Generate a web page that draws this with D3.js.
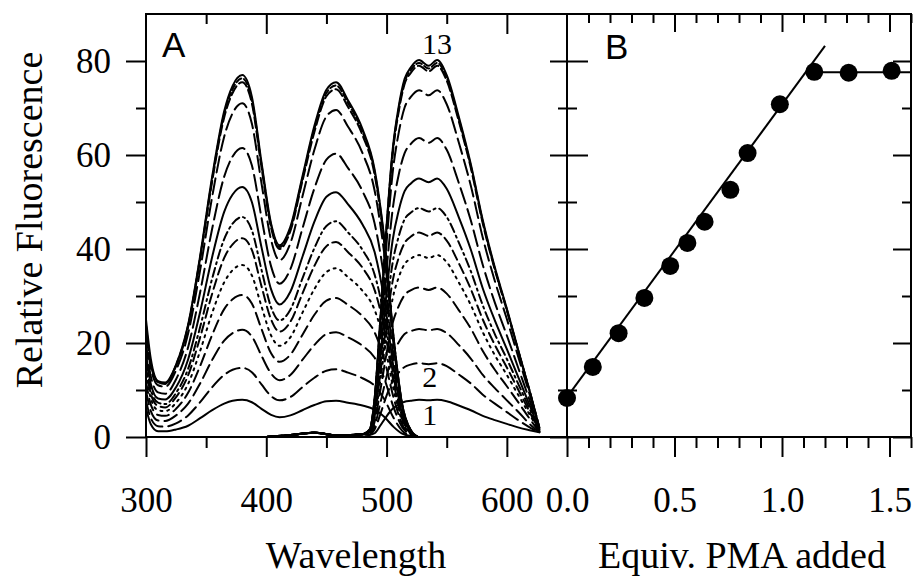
<!DOCTYPE html>
<html>
<head>
<meta charset="utf-8">
<script src="https://cdn.jsdelivr.net/npm/d3@7"></script>
<style>
  body { margin: 0; background: #fff; }
  svg { display: block; }
  .serif, .serif text { font-family: "Liberation Serif", "Times New Roman", "DejaVu Serif", serif; }
  .sans { font-family: "Liberation Sans", Arial, sans-serif; }
</style>
</head>
<body>
<div id="chart"></div>
<script>
// Panel A: excitation spectra (left band), curves 1..13
const excWavelengths = [300, 304, 310, 316, 325, 335, 345, 355, 365, 372, 380, 388, 396, 404, 411, 420, 430, 440, 450, 458, 468, 480, 490, 498, 506, 513, 520, 526];
const excitation = [
  [6.1, 2.7, 1.2, 1.2, 1.6, 2.4, 4.0, 5.7, 7.1, 7.7, 7.9, 7.4, 6.0, 4.7, 4.2, 4.6, 5.7, 6.8, 7.6, 7.7, 7.3, 6.7, 5.8, 4.3, 2.1, 0.7, 0.2, 0],
  [7.8, 4.0, 2.3, 2.2, 2.9, 4.6, 7.4, 10.6, 13.2, 14.3, 14.7, 13.8, 11.2, 8.7, 7.8, 8.5, 10.6, 12.6, 14.1, 14.4, 13.7, 12.5, 10.9, 8.1, 4.0, 1.3, 0.3, 0],
  [9.9, 5.5, 3.5, 3.4, 4.6, 7.1, 11.4, 16.4, 20.5, 22.1, 22.8, 21.4, 17.3, 13.5, 12.1, 13.2, 16.4, 19.6, 21.9, 22.3, 21.2, 19.4, 16.9, 12.5, 6.2, 2.1, 0.5, 0],
  [11.9, 6.9, 4.7, 4.5, 6.0, 9.4, 15.1, 21.7, 27.2, 29.3, 30.2, 28.4, 23.0, 17.8, 16.0, 17.5, 21.7, 26.0, 29.0, 29.6, 28.1, 25.7, 22.3, 16.6, 8.2, 2.7, 0.6, 0],
  [13.5, 8.2, 5.7, 5.5, 7.3, 11.3, 18.3, 26.4, 32.9, 35.5, 36.6, 34.4, 27.8, 21.6, 19.4, 21.2, 26.4, 31.5, 35.1, 35.9, 34.0, 31.1, 27.1, 20.1, 9.9, 3.3, 0.7, 0],
  [15.0, 9.2, 6.6, 6.3, 8.5, 13.1, 21.2, 30.5, 38.1, 41.0, 42.3, 39.8, 32.1, 25.0, 22.4, 24.5, 30.5, 36.4, 40.6, 41.5, 39.3, 36.0, 31.3, 23.3, 11.4, 3.8, 0.8, 0],
  [16.2, 10.1, 7.3, 7.0, 9.4, 14.5, 23.4, 33.7, 42.1, 45.4, 46.8, 44.0, 35.6, 27.6, 24.8, 27.1, 33.7, 40.2, 44.9, 45.9, 43.5, 39.8, 34.6, 25.7, 12.6, 4.2, 0.9, 0],
  [17.8, 11.3, 8.2, 8.0, 10.6, 16.5, 26.6, 38.3, 47.9, 51.6, 53.2, 50.0, 40.4, 31.4, 28.2, 30.9, 38.3, 45.8, 51.1, 52.1, 49.5, 45.2, 39.4, 29.3, 14.4, 4.8, 1.1, 0],
  [20.0, 12.9, 9.5, 9.2, 12.3, 19.1, 30.8, 44.3, 55.4, 59.7, 61.5, 57.8, 46.7, 36.3, 32.6, 35.7, 44.3, 52.9, 59.0, 60.3, 57.2, 52.3, 45.5, 33.8, 16.6, 5.5, 1.2, 0],
  [22.5, 14.7, 11.0, 10.7, 14.2, 22.0, 35.5, 51.1, 63.9, 68.9, 71.0, 66.7, 54.0, 41.9, 37.6, 41.2, 51.1, 61.1, 68.2, 69.6, 66.0, 60.4, 52.5, 39.1, 19.2, 6.4, 1.4, 0],
  [23.6, 15.5, 11.7, 11.3, 15.1, 23.4, 37.8, 54.4, 68.0, 73.2, 75.5, 71.0, 57.4, 44.5, 40.0, 43.8, 54.4, 64.9, 72.5, 74.0, 70.2, 64.2, 55.9, 41.5, 20.4, 6.8, 1.5, 0],
  [23.8, 15.7, 11.8, 11.4, 15.3, 23.7, 38.2, 54.9, 68.7, 74.0, 76.3, 71.7, 58.0, 45.0, 40.4, 44.3, 54.9, 65.6, 73.2, 74.8, 71.0, 64.9, 56.5, 42.0, 20.6, 6.9, 1.5, 0],
  [25.0, 16.6, 11.9, 11.6, 15.4, 23.9, 38.5, 55.4, 69.3, 74.7, 77.0, 72.4, 58.5, 45.4, 40.8, 44.7, 55.4, 66.2, 73.9, 75.5, 71.6, 65.5, 57.0, 42.4, 20.8, 6.9, 1.5, 0]
];

// Panel A: emission spectra (right band), curves 1..13
const emWavelengths = [400, 420, 440, 460, 480, 486, 490, 495, 500, 505, 510, 515, 520, 527, 535, 542, 550, 560, 570, 580, 590, 600, 610, 620, 627];
const emission = [
  [0, 0.4, 0.9, 0.3, 0.6, 0.5, 0.8, 2.5, 4.4, 6.0, 6.9, 7.5, 7.7, 7.9, 7.8, 7.9, 7.6, 6.7, 5.7, 4.5, 3.6, 2.8, 2.0, 1.4, 1.0],
  [0, 0.4, 0.9, 0.3, 0.6, 0.5, 1.6, 5.0, 8.8, 11.9, 13.7, 14.9, 15.4, 15.7, 15.5, 15.7, 15.1, 13.3, 11.4, 9.0, 7.1, 5.3, 3.5, 1.9, 1.0],
  [0, 0.4, 0.9, 0.3, 0.6, 0.5, 2.3, 7.4, 12.9, 17.5, 20.1, 21.9, 22.5, 23.0, 22.7, 23.0, 22.1, 19.6, 16.7, 13.2, 10.4, 7.8, 5.2, 2.5, 1.0],
  [0, 0.4, 0.9, 0.3, 0.6, 0.6, 3.2, 10.2, 17.8, 24.2, 27.8, 30.2, 31.2, 31.8, 31.3, 31.8, 30.5, 27.0, 23.1, 18.3, 14.3, 10.8, 7.2, 3.5, 1.1],
  [0, 0.4, 0.9, 0.3, 0.6, 0.8, 3.9, 12.4, 21.7, 29.4, 33.9, 36.8, 37.9, 38.7, 38.1, 38.7, 37.2, 32.9, 28.1, 22.3, 17.4, 13.2, 8.7, 4.3, 1.2],
  [0, 0.4, 0.9, 0.3, 0.6, 0.9, 4.4, 13.9, 24.4, 33.1, 38.1, 41.3, 42.6, 43.5, 42.8, 43.5, 41.8, 37.0, 31.5, 25.0, 19.6, 14.8, 9.8, 4.8, 1.3],
  [0, 0.4, 0.9, 0.3, 0.6, 1.0, 4.9, 15.6, 27.3, 37.0, 42.6, 46.3, 47.7, 48.7, 48.0, 48.7, 46.8, 41.4, 35.3, 28.0, 21.9, 16.6, 11.0, 5.4, 1.4],
  [0, 0.4, 0.9, 0.3, 0.6, 1.1, 5.5, 17.6, 30.8, 41.8, 48.1, 52.3, 53.9, 55.0, 54.2, 55.0, 52.8, 46.8, 39.9, 31.6, 24.8, 18.7, 12.4, 6.1, 1.5],
  [0, 0.4, 0.9, 0.3, 0.6, 1.3, 6.4, 20.4, 35.6, 48.3, 55.7, 60.4, 62.3, 63.6, 62.6, 63.6, 61.1, 54.1, 46.1, 36.6, 28.6, 21.6, 14.3, 7.0, 1.6],
  [0, 0.4, 0.9, 0.3, 0.6, 1.5, 7.4, 23.6, 41.3, 56.1, 64.6, 70.1, 72.3, 73.8, 72.7, 73.8, 70.8, 62.7, 53.5, 42.4, 33.2, 25.1, 16.6, 8.1, 1.8],
  [0, 0.4, 0.9, 0.3, 0.6, 1.6, 7.9, 25.3, 44.2, 60.0, 69.1, 75.1, 77.4, 79.0, 77.8, 79.0, 75.8, 67.2, 57.3, 45.4, 35.6, 26.9, 17.8, 8.7, 2.0],
  [0, 0.4, 0.9, 0.3, 0.6, 1.6, 8.0, 25.5, 44.6, 60.5, 69.7, 75.6, 78.0, 79.6, 78.4, 79.6, 76.4, 67.7, 57.7, 45.8, 35.8, 27.1, 17.9, 8.8, 2.0],
  [0, 0.4, 0.9, 0.3, 0.6, 1.6, 8.0, 25.7, 44.9, 61.0, 70.2, 76.2, 78.6, 80.2, 79.0, 80.2, 77.0, 68.2, 58.1, 46.1, 36.1, 27.3, 18.0, 8.8, 2.0]
];

// Panel B: titration points and the two fitted lines
const pmaEquiv = [0.0, 0.12, 0.24, 0.36, 0.48, 0.56, 0.64, 0.76, 0.84, 0.99, 1.15, 1.31, 1.51];
const fluorescence = [8.3, 14.9, 22.1, 29.6, 36.4, 41.3, 45.8, 52.6, 60.4, 70.8, 77.7, 77.5, 77.9];
const riseLine = [[0, 8.5], [1.2, 83.2]];
const plateauLine = [[1.11, 77.6], [1.6, 77.6]];

const yMajor = [0, 20, 40, 60, 80];
const yMinor = [10, 30, 50, 70];
const waveMajor = [300, 400, 500, 600];
const waveMinor = [350, 450, 550];
const equivMajor = [0, 0.5, 1.0, 1.5];

// line style per spectrum (1..13)
const dashes = ["none", "14,6", "14,6", "12,6", "2,5", "10,5", "9,4,2,4", "none", "16,6", "16,6", "10,4", "6,3", "none"];

const width = 913, height = 581;
const yTop = 14, yBottom = 437;
const aLeft = 146, mid = 567, bRight = 911;

const svg = d3.select("#chart").append("svg")
  .attr("width", width)
  .attr("height", height);

const y = d3.scaleLinear().domain([0, 90]).range([yBottom, yTop]);
const xA = d3.scaleLinear().domain([300, 650]).range([aLeft, mid]);
const xB = d3.scaleLinear().domain([0, 1.6]).range([mid, bRight]);

// spectra
const lineA = (wl) => d3.line()
  .x((d, i) => xA(wl[i]))
  .y(d => y(d))
  .curve(d3.curveMonotoneX);

const spectra = svg.append("g")
  .attr("fill", "none")
  .attr("stroke", "#000")
  .attr("stroke-width", 2)
  .attr("stroke-linecap", "round");

excitation.forEach((s, i) => {
  spectra.append("path")
    .attr("d", lineA(excWavelengths)(s))
    .attr("stroke-dasharray", dashes[i]);
});
emission.forEach((s, i) => {
  spectra.append("path")
    .attr("d", lineA(emWavelengths)(s))
    .attr("stroke-dasharray", dashes[i]);
});

// panel B
const lineB = d3.line().x(d => xB(d[0])).y(d => y(d[1]));
svg.append("path").attr("d", lineB(riseLine))
  .attr("stroke", "#000").attr("stroke-width", 2).attr("fill", "none");
svg.append("path").attr("d", lineB(plateauLine))
  .attr("stroke", "#000").attr("stroke-width", 2).attr("fill", "none");

svg.append("g")
  .selectAll("circle")
  .data(pmaEquiv)
  .enter().append("circle")
  .attr("cx", d => xB(d))
  .attr("cy", (d, i) => y(fluorescence[i]))
  .attr("r", 9)
  .attr("fill", "#000");

// axes
function styleAxis(g) {
  g.select(".domain").remove();
  g.selectAll("line").attr("stroke", "#000").attr("stroke-width", 2);
  g.attr("font-family", null).attr("font-size", null)
    .attr("class", "serif")
    .style("font-size", "35px");
  g.selectAll("text").attr("fill", "#000");
}

// left axis of A
svg.append("g").attr("transform", `translate(${aLeft},0)`)
  .call(d3.axisLeft(y).tickValues(yMajor).tickSize(20).tickPadding(15).tickFormat(d3.format("d")))
  .call(styleAxis);
svg.append("g").attr("transform", `translate(${aLeft},0)`)
  .call(d3.axisLeft(y).tickValues(yMinor).tickSize(10).tickFormat(""))
  .call(styleAxis);

// divider between panels, ticks on both sides
svg.append("g").attr("transform", `translate(${mid},0)`)
  .call(d3.axisLeft(y).tickValues(yMajor).tickSize(17).tickFormat(""))
  .call(styleAxis);
svg.append("g").attr("transform", `translate(${mid},0)`)
  .call(d3.axisRight(y).tickValues(yMajor).tickSize(21).tickFormat(""))
  .call(styleAxis);
svg.append("g").attr("transform", `translate(${mid},0)`)
  .call(d3.axisLeft(y).tickValues(yMinor).tickSize(9).tickFormat(""))
  .call(styleAxis);
svg.append("g").attr("transform", `translate(${mid},0)`)
  .call(d3.axisRight(y).tickValues(yMinor).tickSize(10).tickFormat(""))
  .call(styleAxis);

// right axis of B (inward ticks)
svg.append("g").attr("transform", `translate(${bRight},0)`)
  .call(d3.axisLeft(y).tickValues(yMajor).tickSize(18).tickFormat(""))
  .call(styleAxis);
svg.append("g").attr("transform", `translate(${bRight},0)`)
  .call(d3.axisLeft(y).tickValues(yMinor).tickSize(9).tickFormat(""))
  .call(styleAxis);

// bottom of A
svg.append("g").attr("transform", `translate(0,${yBottom})`)
  .call(d3.axisBottom(xA).tickValues(waveMajor).tickSize(20).tickFormat(d3.format("d")))
  .call(styleAxis)
  .call(g => g.selectAll("text").attr("y", 50));
svg.append("g").attr("transform", `translate(0,${yBottom})`)
  .call(d3.axisBottom(xA).tickValues(waveMinor).tickSize(11).tickFormat(""))
  .call(styleAxis);

// top of A (inward)
svg.append("g").attr("transform", `translate(0,${yTop})`)
  .call(d3.axisBottom(xA).tickValues(waveMajor.slice(1)).tickSize(20).tickFormat(""))
  .call(styleAxis);
svg.append("g").attr("transform", `translate(0,${yTop})`)
  .call(d3.axisBottom(xA).tickValues(waveMinor).tickSize(10).tickFormat(""))
  .call(styleAxis);

// bottom of B
const equivMinor = xB.ticks(16).filter(v => !equivMajor.some(m => Math.abs(m - v) < 1e-6));
svg.append("g").attr("transform", `translate(0,${yBottom})`)
  .call(d3.axisBottom(xB).tickValues(equivMajor).tickSize(20).tickFormat(d3.format(".1f")))
  .call(styleAxis)
  .call(g => g.selectAll("text").attr("y", 50));
svg.append("g").attr("transform", `translate(0,${yBottom})`)
  .call(d3.axisBottom(xB).tickValues(equivMinor).tickSize(11).tickFormat(""))
  .call(styleAxis);

// top of B (inward)
svg.append("g").attr("transform", `translate(0,${yTop})`)
  .call(d3.axisBottom(xB).tickValues(equivMajor.slice(1)).tickSize(18).tickFormat(""))
  .call(styleAxis);
svg.append("g").attr("transform", `translate(0,${yTop})`)
  .call(d3.axisBottom(xB).tickValues(equivMinor).tickSize(9).tickFormat(""))
  .call(styleAxis);

// frame
svg.append("rect")
  .attr("x", aLeft).attr("y", yTop)
  .attr("width", bRight - aLeft).attr("height", yBottom - yTop)
  .attr("fill", "none").attr("stroke", "#000").attr("stroke-width", 2);
svg.append("line")
  .attr("x1", mid).attr("x2", mid).attr("y1", yTop).attr("y2", yBottom)
  .attr("stroke", "#000").attr("stroke-width", 2);

// labels
svg.append("text")
  .attr("class", "serif")
  .attr("transform", "translate(42,220) rotate(-90)")
  .attr("text-anchor", "middle")
  .style("font-size", "38px")
  .text("Relative Fluorescence");

svg.append("text")
  .attr("class", "serif")
  .attr("x", 356).attr("y", 568)
  .attr("text-anchor", "middle")
  .style("font-size", "38px")
  .text("Wavelength");

svg.append("text")
  .attr("class", "serif")
  .attr("x", 742).attr("y", 568)
  .attr("text-anchor", "middle")
  .style("font-size", "38px")
  .text("Equiv. PMA added");

svg.append("text")
  .attr("class", "sans")
  .attr("x", 162).attr("y", 57)
  .style("font-size", "35px")
  .text("A");
svg.append("text")
  .attr("class", "sans")
  .attr("x", 605).attr("y", 59)
  .style("font-size", "35px")
  .text("B");

// curve numbers
const curveLabels = [
  {text: "13", wl: 542, v: 81.5},
  {text: "2", wl: 536, v: 10.6},
  {text: "1", wl: 536, v: 2.6}
];
svg.append("g")
  .attr("class", "serif")
  .selectAll("text")
  .data(curveLabels)
  .enter().append("text")
  .attr("x", d => xA(d.wl))
  .attr("y", d => y(d.v))
  .attr("text-anchor", "middle")
  .style("font-size", "30px")
  .text(d => d.text);
</script>
</body>
</html>
